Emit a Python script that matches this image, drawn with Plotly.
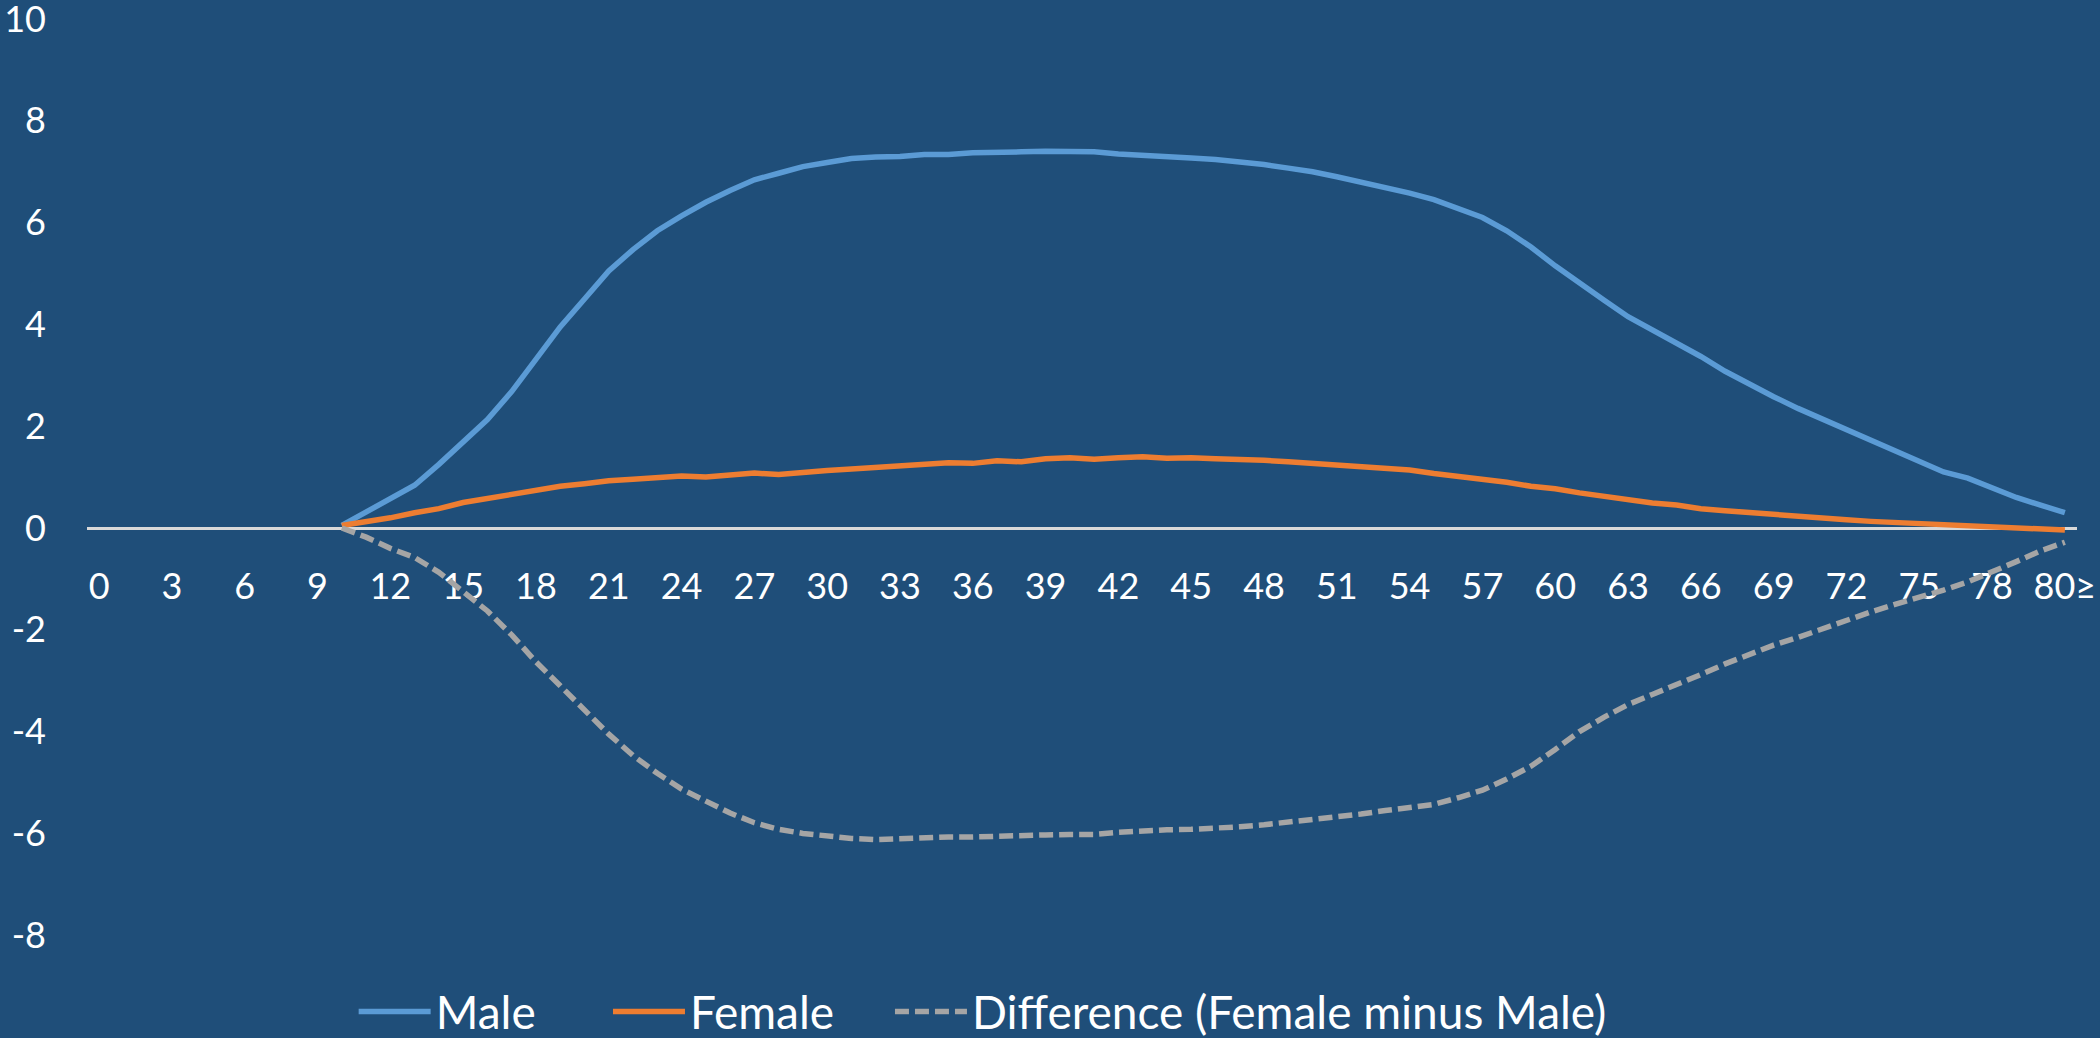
import plotly.graph_objects as go

# Age categories 0..80 plus the open-ended "80≥" group
ages = [str(a) for a in range(81)] + ["80≥"]
first_age_index = 10  # series start at age 10

male = [0.05, 0.32, 0.58, 0.84, 1.25, 1.68, 2.13, 2.68, 3.3, 3.95,
        4.5, 5.05, 5.47, 5.84, 6.13, 6.4, 6.63, 6.84, 6.97, 7.1,
        7.18, 7.26, 7.29, 7.3, 7.34, 7.34, 7.37, 7.39, 7.39, 7.4,
        7.39, 7.39, 7.35, 7.33, 7.3, 7.27, 7.24, 7.2, 7.14, 7.07,
        7.0, 6.9, 6.8, 6.7, 6.58, 6.45, 6.28, 6.1, 5.84, 5.52,
        5.15, 4.8, 4.48, 4.15, 3.9, 3.63, 3.37, 3.08, 2.82, 2.58,
        2.35, 2.14, 1.93, 1.72, 1.5, 1.29, 1.1, 0.98, 0.8, 0.6,
        0.45, 0.3]

female = [0.05, 0.12, 0.2, 0.3, 0.38, 0.5, 0.58, 0.66, 0.74, 0.82,
          0.87, 0.93, 0.96, 0.99, 1.02, 1.0, 1.05, 1.08, 1.05, 1.1,
          1.13, 1.16, 1.19, 1.22, 1.25, 1.28, 1.27, 1.32, 1.3, 1.36,
          1.38, 1.35, 1.38, 1.4, 1.37, 1.38, 1.36, 1.35, 1.33, 1.3,
          1.27, 1.24, 1.21, 1.18, 1.14, 1.07, 1.02, 0.95, 0.9, 0.82,
          0.77, 0.69, 0.62, 0.57, 0.49, 0.45, 0.38, 0.34, 0.3, 0.27,
          0.23, 0.2, 0.16, 0.13, 0.11, 0.08, 0.06, 0.03, 0.03, 0.0,
          -0.02, -0.04]

difference = [0.0, -0.18, -0.4, -0.58, -0.87, -1.24, -1.63, -2.1, -2.63, -3.1,
              -3.58, -4.05, -4.47, -4.82, -5.13, -5.37, -5.6, -5.79, -5.92, -6.0,
              -6.05, -6.1, -6.12, -6.1, -6.09, -6.07, -6.07, -6.05, -6.05, -6.03,
              -6.02, -6.02, -5.98, -5.95, -5.93, -5.92, -5.9, -5.87, -5.83, -5.78,
              -5.73, -5.67, -5.62, -5.55, -5.5, -5.43, -5.3, -5.15, -4.93, -4.68,
              -4.35, -4.0, -3.72, -3.47, -3.27, -3.08, -2.88, -2.67, -2.48, -2.3,
              -2.15, -1.98, -1.82, -1.65, -1.5, -1.37, -1.22, -1.06, -0.87, -0.66,
              -0.45, -0.28]

y_ticks = [-8, -6, -4, -2, 0, 2, 4, 6, 8, 10]

BG = "#1F4E79"
FONT = "Lato, 'Open Sans', sans-serif"

x_vals = ages[first_age_index:]

fig = go.Figure()
fig.add_trace(go.Scatter(x=x_vals, y=male, name="Male", mode="lines",
                         line=dict(color="#5B9BD5", width=5.5), legend="legend"))
fig.add_trace(go.Scatter(x=x_vals, y=female, name="Female", mode="lines",
                         line=dict(color="#ED7D31", width=5.5), legend="legend2"))
fig.add_trace(go.Scatter(x=x_vals, y=difference, name="Difference (Female minus Male)",
                         mode="lines",
                         line=dict(color="#A5A5A5", width=5.5, dash="14px,6px"),
                         legend="legend3"))

tick_ages = ages[::3]


def legend_box(x):
    return dict(orientation="h", x=x, xanchor="left", y=0.025, yanchor="middle",
                bgcolor="rgba(0,0,0,0)", font=dict(family=FONT, size=46, color="white"),
                itemwidth=72)


fig.update_layout(
    width=2100, height=1038,
    paper_bgcolor=BG, plot_bgcolor=BG,
    margin=dict(l=87, r=23, t=19, b=1, autoexpand=False),
    font=dict(family=FONT, color="white"),
    showlegend=True,
    legend=legend_box(0.134),
    legend2=legend_box(0.2618),
    legend3=legend_box(0.4035),
)

fig.update_xaxes(
    type="category", categoryorder="array", categoryarray=ages,
    range=[-0.5, len(ages) - 0.5],
    anchor="free", position=0.5,
    showline=True, linecolor="#D9D9D9", linewidth=2.5, layer="below traces",
    showgrid=False, zeroline=False, ticks="",
    tickmode="array", tickvals=tick_ages, ticktext=tick_ages,
    tickfont=dict(family=FONT, size=36, color="white"),
    ticklabelstandoff=26, ticklabeloverflow="allow",
)

fig.update_yaxes(
    range=[-10, 10], showgrid=False, zeroline=False, showline=False,
    tickmode="array", tickvals=y_ticks, ticktext=[str(v) for v in y_ticks],
    tickfont=dict(family=FONT, size=36, color="white"),
    ticks="", ticklabelstandoff=40, ticklabeloverflow="allow",
)

fig.write_html("out.html")
